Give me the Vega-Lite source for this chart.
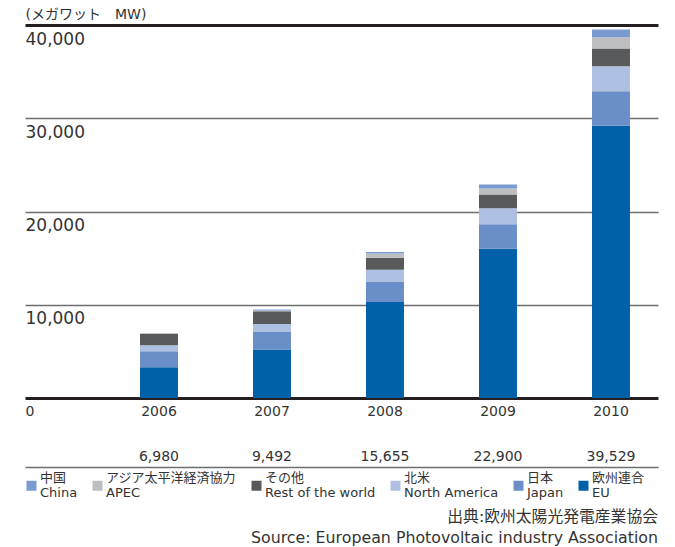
{
  "$schema": "https://vega.github.io/schema/vega-lite/v6.json",
  "background": "white",
  "padding": {"left": 25, "right": 17, "top": 7, "bottom": 0},
  "config": {
    "view": {"stroke": null},
    "font": "DejaVu Sans, Noto Sans CJK JP",
    "concat": {"spacing": 29}
  },
  "datasets": {
    "pv": [
      {"year": "2006", "series": "欧州連合|EU", "k": 1, "value": 3302},
      {"year": "2006", "series": "日本|Japan", "k": 2, "value": 1708},
      {"year": "2006", "series": "北米|North America", "k": 3, "value": 640},
      {"year": "2006", "series": "その他|Rest of the world", "k": 4, "value": 1230},
      {"year": "2006", "series": "アジア太平洋経済協力|APEC", "k": 5, "value": 80},
      {"year": "2006", "series": "中国|China", "k": 6, "value": 20},
      {"year": "2007", "series": "欧州連合|EU", "k": 1, "value": 5200},
      {"year": "2007", "series": "日本|Japan", "k": 2, "value": 1919},
      {"year": "2007", "series": "北米|North America", "k": 3, "value": 830},
      {"year": "2007", "series": "その他|Rest of the world", "k": 4, "value": 1343},
      {"year": "2007", "series": "アジア太平洋経済協力|APEC", "k": 5, "value": 80},
      {"year": "2007", "series": "中国|China", "k": 6, "value": 120},
      {"year": "2008", "series": "欧州連合|EU", "k": 1, "value": 10300},
      {"year": "2008", "series": "日本|Japan", "k": 2, "value": 2200},
      {"year": "2008", "series": "北米|North America", "k": 3, "value": 1250},
      {"year": "2008", "series": "その他|Rest of the world", "k": 4, "value": 1300},
      {"year": "2008", "series": "アジア太平洋経済協力|APEC", "k": 5, "value": 450},
      {"year": "2008", "series": "中国|China", "k": 6, "value": 155},
      {"year": "2009", "series": "欧州連合|EU", "k": 1, "value": 16006},
      {"year": "2009", "series": "日本|Japan", "k": 2, "value": 2627},
      {"year": "2009", "series": "北米|North America", "k": 3, "value": 1727},
      {"year": "2009", "series": "その他|Rest of the world", "k": 4, "value": 1450},
      {"year": "2009", "series": "アジア太平洋経済協力|APEC", "k": 5, "value": 660},
      {"year": "2009", "series": "中国|China", "k": 6, "value": 430},
      {"year": "2010", "series": "欧州連合|EU", "k": 1, "value": 29200},
      {"year": "2010", "series": "日本|Japan", "k": 2, "value": 3690},
      {"year": "2010", "series": "北米|North America", "k": 3, "value": 2690},
      {"year": "2010", "series": "その他|Rest of the world", "k": 4, "value": 1900},
      {"year": "2010", "series": "アジア太平洋経済協力|APEC", "k": 5, "value": 1215},
      {"year": "2010", "series": "中国|China", "k": 6, "value": 834}
    ]
  },
  "title": {
    "text": ["出典:欧州太陽光発電産業協会", "Source: European Photovoltaic industry Association"],
    "orient": "bottom",
    "anchor": "end",
    "align": "right",
    "fontSize": 15.8,
    "fontWeight": "normal",
    "color": "#333333",
    "lineHeight": 21,
    "offset": 10
  },
  "vconcat": [
    {
      "width": 633,
      "height": 373,
      "data": {"name": "pv"},
      "mark": {"type": "bar"},
      "encoding": {
        "x": {
          "field": "year",
          "type": "nominal",
          "scale": {"type": "band", "paddingInner": 0.664, "paddingOuter": 0.633, "align": 0.804},
          "axis": {
            "title": null,
            "domain": false,
            "ticks": false,
            "labelAngle": 0,
            "labelPadding": 6,
            "labelFontSize": 14,
            "labelColor": "#333333"
          }
        },
        "y": {
          "field": "value",
          "type": "quantitative",
          "aggregate": "sum",
          "stack": "zero",
          "scale": {"domain": [0, 40000], "nice": false},
          "axis": {
            "title": "(メガワット　MW)",
            "titleAngle": 0,
            "titleX": 0,
            "titleY": -11,
            "titleAlign": "left",
            "titleBaseline": "middle",
            "titleFontSize": 14,
            "titleFontWeight": "normal",
            "titleColor": "#333333",
            "values": [0, 10000, 20000, 30000, 40000],
            "labelExpr": "format(datum.value, ',')",
            "domain": false,
            "ticks": false,
            "tickSize": 0,
            "labelAlign": "left",
            "labelBaseline": "top",
            "labelPadding": 0,
            "labelOffset": 6,
            "labelColor": "#333333",
            "labelFontSize": {"condition": {"test": "datum.value === 0", "value": 14}, "value": 17},
            "grid": true,
            "gridColor": {"condition": {"test": "datum.value === 0 || datum.value === 40000", "value": "#231f20"}, "value": "#6d6e71"},
            "gridWidth": {"condition": {"test": "datum.value === 0 || datum.value === 40000", "value": 3}, "value": 1.7},
            "gridOpacity": 1
          }
        },
        "color": {
          "field": "series",
          "type": "nominal",
          "scale": {
            "domain": ["中国|China", "アジア太平洋経済協力|APEC", "その他|Rest of the world", "北米|North America", "日本|Japan", "欧州連合|EU"],
            "range": ["#7a9bd2", "#bcbec0", "#58595b", "#aec0e2", "#6a8ec7", "#0060a8"]
          },
          "legend": {
            "title": null,
            "orient": "bottom",
            "direction": "horizontal",
            "symbolType": "square",
            "symbolSize": 100,
            "symbolStrokeWidth": 0,
            "symbolOpacity": 1,
            "labelFontSize": 13,
            "labelColor": "#333333",
            "labelLimit": 300,
            "labelOffset": 2,
            "labelBaseline": "line-bottom",
            "columnPadding": 13,
            "offset": 12,
            "labelExpr": "split(datum.label, '|')"
          }
        },
        "order": {"field": "k", "type": "quantitative", "sort": "ascending"}
      }
    },
    {
      "width": 633,
      "height": 20,
      "data": {"name": "pv"},
      "mark": {"type": "text", "fontSize": 14, "color": "#333333"},
      "encoding": {
        "x": {
          "field": "year",
          "type": "nominal",
          "scale": {"type": "band", "paddingInner": 0.664, "paddingOuter": 0.633, "align": 0.804},
          "axis": {
            "title": null,
            "labels": false,
            "ticks": false,
            "domain": true,
            "domainColor": "#6d6e71",
            "domainWidth": 1.7
          }
        },
        "text": {"field": "value", "aggregate": "sum", "type": "quantitative", "format": ","}
      }
    }
  ]
}
